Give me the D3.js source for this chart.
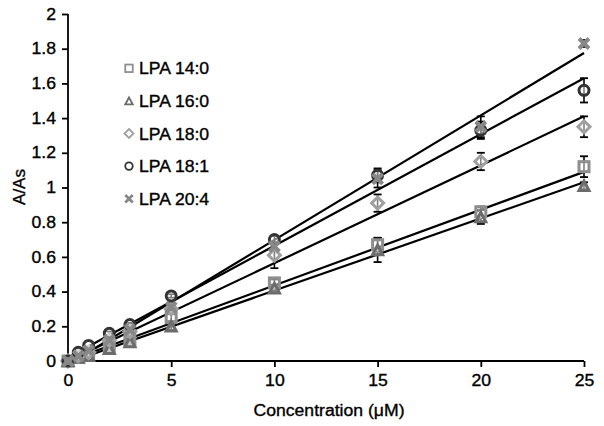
<!DOCTYPE html>
<html><head><meta charset="utf-8">
<script src="https://cdn.jsdelivr.net/npm/d3@7"></script>
<style>body{margin:0;background:#fff}svg{display:block}</style>
</head><body><svg id="c" width="604" height="426"></svg>
<script>
const concentrations = [0, 0.5, 1, 2, 3, 5, 10, 15, 20, 25];
const seriesNames = ["LPA 14:0", "LPA 16:0", "LPA 18:0", "LPA 18:1", "LPA 20:4"];
const lpa140 = [0, 0.02, 0.04, 0.08, 0.12, 0.25, 0.45, 0.67, 0.86, 1.12];
const lpa160 = [0, 0.02, 0.03, 0.07, 0.11, 0.20, 0.42, 0.64, 0.83, 1.01];
const lpa180 = [0, 0.03, 0.05, 0.12, 0.17, 0.30, 0.61, 0.91, 1.15, 1.35];
const lpa181 = [0, 0.05, 0.09, 0.16, 0.21, 0.375, 0.70, 1.07, 1.33, 1.56];
const lpa204 = [0, 0.03, 0.06, 0.12, 0.18, 0.31, 0.66, 1.05, 1.35, 1.83];
const err140 = [0, 0, 0, 0.01, 0.02, 0.02, 0.02, 0.04, 0.03, 0.06];
const err160 = [0, 0, 0, 0.01, 0.02, 0.02, 0.02, 0.07, 0.04, 0.02];
const err180 = [0, 0, 0, 0, 0.02, 0.03, 0.075, 0.05, 0.05, 0.06];
const err181 = [0, 0, 0, 0.01, 0.01, 0.01, 0.02, 0.04, 0.05, 0.07];
const err204 = [0, 0, 0, 0.01, 0.01, 0.02, 0.02, 0.05, 0.06, 0.02];
const trendSlopes = [0.0436, 0.0416, 0.0564, 0.0644, 0.0718];
const trendIntercepts = [0.0, -0.01, 0.0, 0.02, -0.02];
const xTicks = [0, 5, 10, 15, 20, 25];
const yTicks = [0, 0.2, 0.4, 0.6, 0.8, 1, 1.2, 1.4, 1.6, 1.8, 2];

const values = [lpa140, lpa160, lpa180, lpa181, lpa204];
const errors = [err140, err160, err180, err181, err204];
const shapes = ["square", "triangle", "diamond", "circle", "cross"];
const colors = ["#8e8e8e", "#6c6c6c", "#a0a0a0", "#333333", "#888888"];

const svg = d3.select("#c");
const FONT = "'Liberation Sans', Arial, sans-serif";
const FS = 16;
const SX = 1.1;
const x = d3.scaleLinear().domain([0, 25]).range([68, 584]);
const y = d3.scaleLinear().domain([0, 2]).range([361, 14]);

function styleText(sel) {
  sel.attr("font-family", FONT).attr("font-size", FS).attr("fill", "#000")
    .attr("stroke", "#000").attr("stroke-width", 0.35);
  sel.each(function () {
    const l = this.getComputedTextLength();
    d3.select(this).attr("textLength", l * SX).attr("lengthAdjust", "spacingAndGlyphs");
  });
}

// Axes
const xAxis = svg.append("g").attr("transform", "translate(0,361)")
  .call(d3.axisBottom(x).tickValues(xTicks).tickSize(6).tickPadding(8).tickFormat(d3.format("d")));
const yAxis = svg.append("g").attr("transform", "translate(68,0)")
  .call(d3.axisLeft(y).tickValues(yTicks).tickSize(6).tickPadding(6).tickFormat(d => d3.format("")(d)));
[xAxis, yAxis].forEach(a => {
  a.select(".domain").attr("stroke", "#000").attr("stroke-width", 1.8);
  a.selectAll(".tick line").attr("stroke", "#000").attr("stroke-width", 1.8);
  styleText(a.selectAll("text"));
});
xAxis.select(".domain").attr("d", "M68,0H584");
yAxis.select(".domain").attr("d", "M0,14V361");

// Trend lines
const lines = svg.append("g");
trendSlopes.forEach((m, i) => {
  const b = trendIntercepts[i];
  lines.append("line")
    .attr("x1", x(0)).attr("y1", y(b))
    .attr("x2", x(25)).attr("y2", y(b + 25 * m))
    .attr("stroke", "#000").attr("stroke-width", 2.2);
});

// Error bars
const eb = svg.append("g");
values.forEach((vals, i) => {
  vals.forEach((v, j) => {
    const e = errors[i][j];
    if (e <= 0) return;
    const cx = x(concentrations[j]);
    eb.append("line").attr("x1", cx).attr("x2", cx).attr("y1", y(v - e)).attr("y2", y(v + e))
      .attr("stroke", "#000").attr("stroke-width", 1.6);
    [v - e, v + e].forEach(t => eb.append("line").attr("x1", cx - 4).attr("x2", cx + 4)
      .attr("y1", y(t)).attr("y2", y(t)).attr("stroke", "#000").attr("stroke-width", 1.8));
  });
});

function drawMarker(g, shape, cx, cy, s, color, sw) {
  if (shape === "square") {
    g.append("rect").attr("x", cx - s / 2).attr("y", cy - s / 2).attr("width", s).attr("height", s)
      .attr("fill", "#fff").attr("fill-opacity", 0.5).attr("stroke", color).attr("stroke-width", sw);
  } else if (shape === "triangle") {
    const h = s * 0.95;
    g.append("path").attr("d", `M${cx},${cy - h / 2}L${cx + s / 2},${cy + h / 2}L${cx - s / 2},${cy + h / 2}Z`)
      .attr("fill", "#fff").attr("fill-opacity", 0.5).attr("stroke", color).attr("stroke-width", sw).attr("stroke-linejoin", "miter");
  } else if (shape === "diamond") {
    const r = s * 0.6;
    g.append("path").attr("d", `M${cx},${cy - r}L${cx + r},${cy}L${cx},${cy + r}L${cx - r},${cy}Z`)
      .attr("fill", "#fff").attr("fill-opacity", 0.5).attr("stroke", color).attr("stroke-width", sw);
  } else if (shape === "circle") {
    g.append("circle").attr("cx", cx).attr("cy", cy).attr("r", s / 2)
      .attr("fill", "#fff").attr("fill-opacity", 0.5).attr("stroke", color).attr("stroke-width", sw);
  } else {
    const r = s / 2;
    g.append("path").attr("d", `M${cx - r},${cy - r}L${cx + r},${cy + r}M${cx + r},${cy - r}L${cx - r},${cy + r}`)
      .attr("stroke", color).attr("stroke-width", sw + 1).attr("fill", "none");
  }
}

// Markers
const mk = svg.append("g");
values.forEach((vals, i) => {
  vals.forEach((v, j) => {
    drawMarker(mk, shapes[i], x(concentrations[j]), y(v), 10, colors[i], 3);
  });
});

// Legend
const legendY = d3.scaleBand().domain(seriesNames).range([52, 215]);
const lg = svg.append("g");
seriesNames.forEach((n, i) => {
  const cy = legendY(n) + legendY.bandwidth() / 2;
  drawMarker(lg, shapes[i], 129, cy, 7.5, colors[i], 1.8);
  lg.append("text").attr("x", 139).attr("y", cy + 6).text(n);
});
styleText(lg.selectAll("text"));

// Axis titles
const xt = svg.append("text").attr("x", 329).attr("y", 416).attr("text-anchor", "middle")
  .text("Concentration (μM)");
styleText(xt);
svg.append("text").attr("transform", "translate(25,187) rotate(-90)").attr("text-anchor", "middle")
  .attr("font-family", FONT).attr("font-size", FS + 1).attr("stroke", "#000").attr("stroke-width", 0.35)
  .text("A/As");
</script>
</body></html>
